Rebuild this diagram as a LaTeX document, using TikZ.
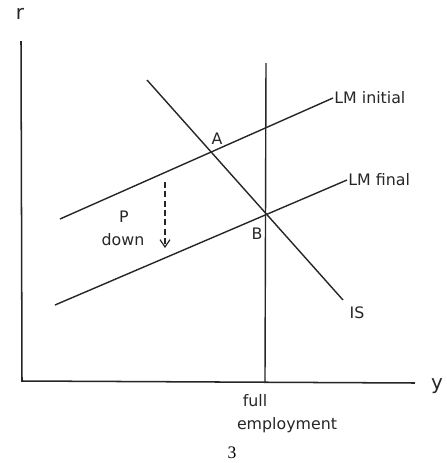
\documentclass[tikz,border=0pt]{standalone}
\usepackage{fontspec}
\setmainfont{Liberation Serif}
\newfontfamily\handfont{DejaVu Sans}
\usepackage{tikz}
\usetikzlibrary{arrows.meta,positioning}
\tikzset{
  axisline/.style={line width=1.3pt, draw=black!85},
  curveline/.style={line width=1.2pt, draw=black!85},
  hand/.style={font=\handfont\fontsize{13.5}{16}\selectfont, inner sep=1pt, text=black!85},
  biglab/.style={hand, font=\handfont\fontsize{17}{19}\selectfont},
  darr/.style={-{Straight Barb[length=2.2mm,width=3mm]}, line width=1pt, dashed, dash pattern=on 5pt off 3pt, draw=black!85}
}

\begin{document}
\begin{tikzpicture}[x=0.03cm,y=-0.03cm]
\useasboundingbox (0,0) rectangle (447,463);
% axes
\coordinate (rtop) at (21,41);
\coordinate (origin) at (22,381);
\coordinate (yend) at (415,383);
\draw[axisline] (rtop) -- (origin) -- (yend);
\node[biglab] (rlab) at (20,14) {r};
\node[biglab] (ylab) at (437,386) {y};
% full employment
\coordinate (fetop) at (266,63);
\coordinate (febot) at (265,382);
\draw[curveline] (fetop) -- (febot);
\node[hand] (fulllab) at (255,401) {full};
\node[hand] (emplab) at (287,425) {employment};
% LM curves
\coordinate (lmi1) at (60,219);
\coordinate (lmi2) at (333,98);
\coordinate (lmf1) at (55,305);
\coordinate (lmf2) at (347,180);
\draw[curveline] (lmi1) -- (lmi2);
\draw[curveline] (lmf1) -- (lmf2);
\node[hand, anchor=west] (lmilab) at (lmi2) {LM initial};
\node[hand, anchor=west] (lmflab) at (lmf2) {LM final};
% IS curve
\coordinate (is1) at (147,80);
\coordinate (is2) at (343,300);
\draw[curveline] (is1) -- (is2);
\node[hand] (islab) at (357,313) {IS};
% points
\node[hand] (alab) at (217,139) {A};
\node[hand] (blab) at (257,234) {B};
% price level falls
\coordinate (p1) at (165,182);
\coordinate (p2) at (165,248);
\draw[darr] (p1) -- (p2);
\node[hand] (plab) at (124,217) {P};
\node[hand] (downlab) at (123,240) {down};
\node[font=\fontsize{15}{17}\selectfont] (pagenum) at (232,453) {3};
\end{tikzpicture}
\end{document}
